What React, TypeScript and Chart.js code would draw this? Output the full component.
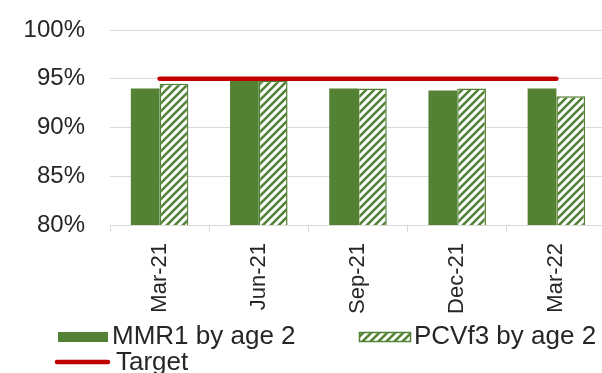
import React, { useEffect, useRef } from "react";
import { Chart, registerables } from "chart.js";

Chart.register(...registerables);

const categories = ["Mar-21", "Jun-21", "Sep-21", "Dec-21", "Mar-22"];
const mmr1Values = [94.0, 95.0, 94.0, 93.8, 94.0];
const pcvValues = [94.5, 94.8, 94.0, 94.0, 93.2];
const targetValues = [95, 95, 95, 95, 95];
const yTicks = [80, 85, 90, 95, 100];
const seriesLabels = ["MMR1 by age 2", "PCVf3 by age 2", "Target"];

const GREEN = "#548235";
const RED = "#C00000";
const GRID = "#d9d9d9";
const TEXT = "#262626";
const FONT = '"Liberation Sans", Arial, sans-serif';

function makePattern(): CanvasPattern | string {
  const c = document.createElement("canvas");
  c.width = 8;
  c.height = 8;
  const g = c.getContext("2d");
  if (!g) return GREEN;
  g.fillStyle = "#ffffff";
  g.fillRect(0, 0, 8, 8);
  g.strokeStyle = GREEN;
  g.lineWidth = 2.6;
  g.beginPath();
  g.moveTo(-1, 9);
  g.lineTo(9, -1);
  g.moveTo(-3, 3);
  g.lineTo(3, -3);
  g.moveTo(5, 11);
  g.lineTo(11, 5);
  g.stroke();
  const p = g.createPattern(c, "repeat");
  return p || GREEN;
}

export default function App() {
  const ref = useRef<HTMLCanvasElement | null>(null);

  useEffect(() => {
    const canvas = ref.current;
    if (!canvas) return;
    const pattern = makePattern();

    const legendPlugin = {
      id: "customLegend",
      afterDraw(chart: any) {
        const ctx = chart.ctx as CanvasRenderingContext2D;
        const ds = chart.data.datasets;
        ctx.save();
        ctx.font = `26px ${FONT}`;
        ctx.textBaseline = "middle";
        ctx.textAlign = "left";
        // item 1
        ctx.fillStyle = GREEN;
        ctx.fillRect(58, 332, 50, 10);
        ctx.fillStyle = TEXT;
        ctx.fillText(ds[0].label, 112, 337);
        // item 2
        ctx.fillStyle = pattern as any;
        ctx.fillRect(359, 332, 52, 10);
        ctx.strokeStyle = GREEN;
        ctx.lineWidth = 1.5;
        ctx.strokeRect(359.5, 332.5, 51, 9);
        ctx.fillStyle = TEXT;
        ctx.fillText(ds[1].label, 414, 337);
        // item 3
        ctx.strokeStyle = RED;
        ctx.lineWidth = 4.5;
        ctx.lineCap = "round";
        ctx.beginPath();
        ctx.moveTo(57, 362);
        ctx.lineTo(108, 362);
        ctx.stroke();
        ctx.fillStyle = TEXT;
        ctx.fillText(ds[2].label, 116, 363);
        ctx.restore();
      },
    };

    const chart = new Chart(canvas, {
      type: "bar",
      data: {
        labels: categories,
        datasets: [
          {
            type: "bar",
            label: seriesLabels[0],
            data: mmr1Values,
            backgroundColor: GREEN,
            borderWidth: 0,
            categoryPercentage: 0.58,
            barPercentage: 1,
            order: 1,
          },
          {
            type: "bar",
            label: seriesLabels[1],
            data: pcvValues,
            backgroundColor: pattern as any,
            borderColor: GREEN,
            borderWidth: 1.5,
            categoryPercentage: 0.58,
            barPercentage: 1,
            order: 1,
          },
          {
            type: "line",
            label: seriesLabels[2],
            data: targetValues,
            borderColor: RED,
            backgroundColor: RED,
            borderWidth: 4.5,
            borderCapStyle: "round",
            pointRadius: 0,
            fill: false,
            order: 0,
          } as any,
        ],
      },
      options: {
        responsive: false,
        animation: false,
        layout: { padding: { top: 30, bottom: 53, left: 0, right: 2 } },
        plugins: {
          legend: { display: false },
          tooltip: { enabled: false },
        },
        scales: {
          x: {
            grid: {
              drawOnChartArea: false,
              drawTicks: true,
              tickLength: 7,
              color: GRID,
              offset: true,
            },
            border: { display: true, color: GRID, width: 1 },
            ticks: {
              minRotation: 90,
              maxRotation: 90,
              padding: 11,
              color: TEXT,
              font: { family: FONT, size: 22 },
            },
            afterFit: (scale: any) => {
              scale.height = 95;
              scale.paddingLeft = 0;
              scale.paddingRight = 0;
              scale.paddingTop = 0;
              scale.paddingBottom = 0;
            },
          },
          y: {
            min: 80,
            max: 100,
            afterBuildTicks: (scale: any) => {
              scale.ticks = yTicks.map((v) => ({ value: v }));
            },
            grid: { color: GRID, drawTicks: false, lineWidth: 1 },
            border: { display: false },
            ticks: {
              padding: 25,
              color: TEXT,
              font: { family: FONT, size: 24 },
              callback: (v: any) => `${v}%`,
            },
            afterFit: (scale: any) => {
              scale.width = 110;
              scale.paddingTop = 0;
              scale.paddingBottom = 0;
              scale.paddingLeft = 0;
              scale.paddingRight = 0;
            },
          },
        },
      },
      plugins: [legendPlugin],
    });

    return () => chart.destroy();
  }, []);

  return (
    <div
      style={{
        position: "fixed",
        left: 0,
        top: 0,
        width: 602,
        height: 373,
        overflow: "hidden",
        background: "#ffffff",
      }}
    >
      <canvas ref={ref} width={608} height={373} style={{ display: "block" }} />
    </div>
  );
}
